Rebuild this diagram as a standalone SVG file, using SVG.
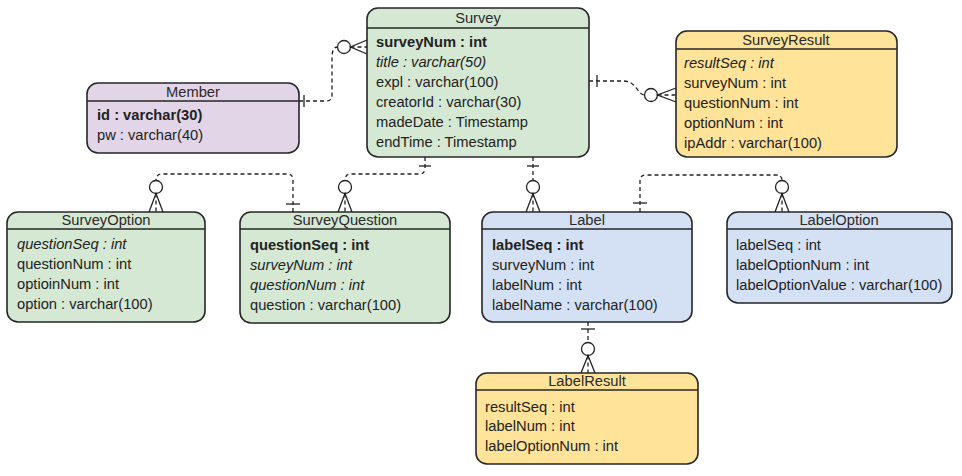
<svg xmlns="http://www.w3.org/2000/svg" width="962" height="476" viewBox="0 0 962 476">
<style>
.ent{stroke:#262626;stroke-width:1.6}
.sep{stroke:#262626;stroke-width:1.6}
.g{fill:#d5e8d4}.p{fill:#e1d5e7}.y{fill:#fee399}.b{fill:#d4e1f5}
text{font-family:"Liberation Sans",Arial,sans-serif;font-size:14.7px;fill:#222}
.t{text-anchor:middle;fill:#2a2a2a}
.k{font-weight:bold}
.i{font-style:italic}
.c{fill:none;stroke:#222;stroke-width:1.3;stroke-dasharray:4 3}
.s{fill:none;stroke:#222;stroke-width:1.3}
.o{fill:#fff;stroke:#222;stroke-width:1.3}
</style>
<rect width="962" height="476" fill="#fff"/>
<g id="connectors">
<!-- Member - Survey -->
<path class="c" d="M299,101 H326 Q332,101 332,95 V58 Q332,47 337.5,47"/>
<line class="s" x1="304" y1="95" x2="304" y2="107"/>
<circle class="o" cx="344" cy="47" r="6.5"/>
<path class="s" d="M367,40 L350.5,47 L367,54"/>
<line class="c" x1="350.5" y1="47" x2="367" y2="47"/>
<!-- Survey - SurveyResult -->
<path class="c" d="M589,81 H624 C636,81 638,95 644.5,95"/>
<line class="s" x1="597" y1="75" x2="597" y2="87"/>
<circle class="o" cx="651" cy="95" r="6.5"/>
<path class="s" d="M676,88 L657.5,95 L676,102"/>
<line class="c" x1="657.5" y1="95" x2="676" y2="95"/>
<!-- Survey - SurveyQuestion -->
<path class="c" d="M425,157 V168 Q425,174 419,174 H351 Q345,174 345,180.5"/>
<line class="s" x1="419" y1="166" x2="431" y2="166"/>
<circle class="o" cx="345" cy="187" r="6.5"/>
<path class="s" d="M338,212 L345,193.5 L352,212"/>
<line class="c" x1="345" y1="193.5" x2="345" y2="212"/>
<!-- SurveyQuestion - SurveyOption -->
<path class="c" d="M293,212 V180 Q293,174 287,174 H162 Q156,174 156,180.5"/>
<line class="s" x1="286" y1="204" x2="300" y2="204"/>
<circle class="o" cx="156" cy="187" r="6.5"/>
<path class="s" d="M149,212 L156,193.5 L163,212"/>
<line class="c" x1="156" y1="193.5" x2="156" y2="212"/>
<!-- Survey - Label -->
<line class="c" x1="533" y1="157" x2="533" y2="180.5"/>
<line class="s" x1="527" y1="166" x2="539" y2="166"/>
<circle class="o" cx="533" cy="187" r="6.5"/>
<path class="s" d="M526,212 L533,193.5 L540,212"/>
<line class="c" x1="533" y1="193.5" x2="533" y2="212"/>
<!-- Label - LabelOption -->
<path class="c" d="M640,212 V181 Q640,175 646,175 H776 Q782,175 782,180.5"/>
<line class="s" x1="633" y1="203" x2="647" y2="203"/>
<circle class="o" cx="782" cy="187" r="6.5"/>
<path class="s" d="M775,212 L782,193.5 L789,212"/>
<line class="c" x1="782" y1="193.5" x2="782" y2="212"/>
<!-- Label - LabelResult -->
<line class="c" x1="588" y1="322" x2="588" y2="342.5"/>
<line class="s" x1="581" y1="329" x2="595" y2="329"/>
<circle class="o" cx="588" cy="349" r="6.5"/>
<path class="s" d="M581,373 L588,355.5 L595,373"/>
<line class="c" x1="588" y1="355.5" x2="588" y2="373"/>
</g>
<g id="Survey">
<rect class="ent g" x="367" y="8" width="222" height="149" rx="11"/>
<line class="sep" x1="367" y1="28" x2="589" y2="28"/>
<text class="t" x="478" y="23">Survey</text>
<text x="376" y="47" class="k">surveyNum : int</text>
<text x="376" y="67" class="i">title : varchar(50)</text>
<text x="376" y="87">expl : varchar(100)</text>
<text x="376" y="107">creatorId : varchar(30)</text>
<text x="376" y="127">madeDate : Timestamp</text>
<text x="376" y="147">endTime : Timestamp</text>
</g>
<g id="Member">
<rect class="ent p" x="87" y="83" width="212" height="70" rx="11"/>
<line class="sep" x1="87" y1="101" x2="299" y2="101"/>
<text class="t" x="193" y="97">Member</text>
<text x="97" y="120" class="k">id : varchar(30)</text>
<text x="97" y="140">pw : varchar(40)</text>
</g>
<g id="SurveyResult">
<rect class="ent y" x="676" y="31" width="221" height="126" rx="11"/>
<line class="sep" x1="676" y1="49" x2="897" y2="49"/>
<text class="t" x="786" y="45">SurveyResult</text>
<text x="684" y="68" class="i">resultSeq : int</text>
<text x="684" y="88">surveyNum : int</text>
<text x="684" y="108">questionNum : int</text>
<text x="684" y="128">optionNum : int</text>
<text x="684" y="148">ipAddr : varchar(100)</text>
</g>
<g id="SurveyOption">
<rect class="ent g" x="7" y="212" width="198" height="110" rx="11"/>
<line class="sep" x1="7" y1="229" x2="205" y2="229"/>
<text class="t" x="106" y="225">SurveyOption</text>
<text x="17" y="249" class="i">questionSeq : int</text>
<text x="17" y="269">questionNum : int</text>
<text x="17" y="289">optioinNum : int</text>
<text x="17" y="309">option : varchar(100)</text>
</g>
<g id="SurveyQuestion">
<rect class="ent g" x="240" y="212" width="210" height="111" rx="11"/>
<line class="sep" x1="240" y1="229" x2="450" y2="229"/>
<text class="t" x="345" y="225">SurveyQuestion</text>
<text x="250" y="250" class="k">questionSeq : int</text>
<text x="250" y="270" class="i">surveyNum : int</text>
<text x="250" y="290" class="i">questionNum : int</text>
<text x="250" y="310">question : varchar(100)</text>
</g>
<g id="Label">
<rect class="ent b" x="482" y="212" width="210" height="110" rx="11"/>
<line class="sep" x1="482" y1="229" x2="692" y2="229"/>
<text class="t" x="587" y="225">Label</text>
<text x="492" y="250" class="k">labelSeq : int</text>
<text x="492" y="270">surveyNum : int</text>
<text x="492" y="290">labelNum : int</text>
<text x="492" y="310">labelName : varchar(100)</text>
</g>
<g id="LabelOption">
<rect class="ent b" x="727" y="212" width="225" height="91" rx="11"/>
<line class="sep" x1="727" y1="229" x2="952" y2="229"/>
<text class="t" x="839" y="225">LabelOption</text>
<text x="736" y="250">labelSeq : int</text>
<text x="736" y="270">labelOptionNum : int</text>
<text x="736" y="290">labelOptionValue : varchar(100)</text>
</g>
<g id="LabelResult">
<rect class="ent y" x="476" y="373" width="222" height="91" rx="11"/>
<line class="sep" x1="476" y1="390" x2="698" y2="390"/>
<text class="t" x="587" y="386">LabelResult</text>
<text x="485" y="412">resultSeq : int</text>
<text x="485" y="431">labelNum : int</text>
<text x="485" y="451">labelOptionNum : int</text>
</g>
</svg>
